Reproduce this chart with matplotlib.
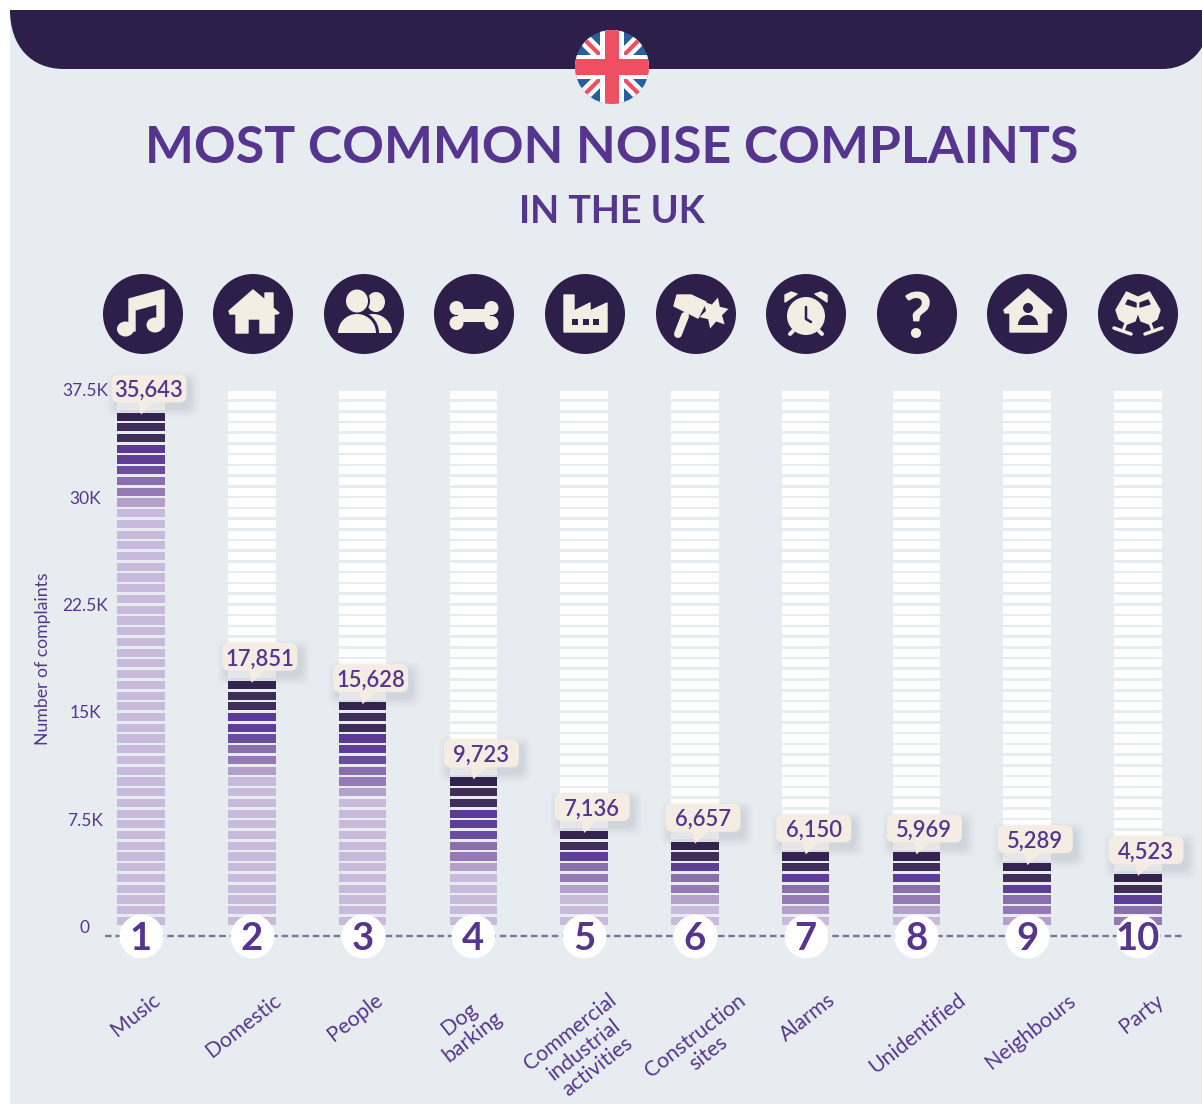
import numpy as np
import matplotlib
matplotlib.use("Agg")
import matplotlib.pyplot as plt
from matplotlib.patches import Circle, Ellipse, Polygon, PathPatch, FancyBboxPatch, Rectangle, Wedge
from matplotlib.path import Path
from matplotlib.transforms import Affine2D

plt.rcParams['font.family'] = ['Lato', 'DejaVu Sans']

categories = ['Music', 'Domestic', 'People', 'Dog\nbarking', 'Commercial\nindustrial\nactivities',
              'Construction\nsites', 'Alarms', 'Unidentified', 'Neighbours', 'Party']
complaints = [35643, 17851, 15628, 9723, 7136, 6657, 6150, 5969, 5289, 4523]
value_labels = ['35,643', '17,851', '15,628', '9,723', '7,136', '6,657', '6,150', '5,969', '5,289', '4,523']
filled_rows = [48, 23, 21, 14, 9, 8, 7, 7, 6, 5]
y_ticks = [0, 7500, 15000, 22500, 30000, 37500]
y_tick_labels = ['0', '7.5K', '15K', '22.5K', '30K', '37.5K']
row_step = 750
total_rows = 50

PURPLE = '#56358f'
DARK = '#2e1f4a'
CREAM = '#f4ede3'
BG = '#e7ecf0'
long_shades = ['#33234f', '#3f2f58', '#3f2f58', '#5a3a94', '#5f3e97', '#6a4d9f', '#8a6fae', '#957ab5', '#b3a0cb']
short_shades = ['#33234f', '#3f2f58', '#5f3e97', '#8a6fae', '#957ab5', '#b3a0cb']
light_shade = '#c8badb'
label_nudge = [-5, -8, -7, -7, 0, 7, 2, 1, 3, 3]

W, H = 1202, 1104
fig = plt.figure(figsize=(W / 100, H / 100), dpi=100, facecolor='white')

# page furniture, in image pixels
bg = fig.add_axes([0, 0, 1, 1], zorder=0)
bg.set_xlim(0, W)
bg.set_ylim(H, 0)
bg.axis('off')
bg.add_patch(Rectangle((10, 10), W - 10, H - 10, fc=BG, ec='none'))

banner = Path([(10, 10), (1202, 10), (1202, 47), (1195, 60), (1180, 69), (1162, 69), (64, 69), (30, 69), (10, 45), (10, 10)],
              [Path.MOVETO, Path.LINETO, Path.LINETO, Path.CURVE4, Path.CURVE4, Path.CURVE4, Path.LINETO, Path.CURVE4, Path.CURVE4, Path.CURVE4])
bg.add_patch(PathPatch(banner, fc=DARK, ec='none'))

# flag
fx, fy, fr = 612, 67, 37
clip = Circle((fx, fy), fr, transform=bg.transData)
flag_parts = [Rectangle((fx - fr, fy - fr), 2 * fr, 2 * fr, fc='#2a5f9e', ec='none')]
for s in (1, -1):
    flag_parts.append(Polygon([(fx - fr, fy - s * (fr - 9)), (fx - fr + 9, fy - s * fr), (fx + fr, fy + s * (fr - 9)), (fx + fr - 9, fy + s * fr)], fc='white', ec='none'))
    flag_parts.append(Polygon([(fx - fr, fy - s * (fr - 3)), (fx - fr + 3, fy - s * fr), (fx + fr, fy + s * (fr - 3)), (fx + fr - 3, fy + s * fr)], fc='#ef4f63', ec='none'))
flag_parts.append(Rectangle((fx - 12, fy - fr), 24, 2 * fr, fc='white', ec='none'))
flag_parts.append(Rectangle((fx - fr, fy - 12), 2 * fr, 24, fc='white', ec='none'))
flag_parts.append(Rectangle((fx - 7, fy - fr), 14, 2 * fr, fc='#ef4f63', ec='none'))
flag_parts.append(Rectangle((fx - fr, fy - 8), 2 * fr, 16, fc='#ef4f63', ec='none'))
for p in flag_parts:
    bg.add_patch(p)
    p.set_clip_path(clip)

bg.text(612, 144, 'MOST COMMON NOISE COMPLAINTS', color=PURPLE, fontsize=37.3, fontweight='bold', ha='center', va='center_baseline')
bg.text(612, 209, 'IN THE UK', color=PURPLE, fontsize=27.2, fontweight='bold', ha='center', va='center_baseline')


def poly(cx, cy, pts, color=CREAM):
    bg.add_patch(Polygon([(cx + a, cy + b) for a, b in pts], fc=color, ec=color, lw=1, joinstyle='round', zorder=3))


def dot(cx, cy, r, color=CREAM, ry=None):
    bg.add_patch(Ellipse((cx, cy), 2 * r, 2 * (ry or r), fc=color, ec='none', zorder=3))


def stroke(cx, cy, pts, width, color=CREAM):
    xs = [cx + a for a, b in pts]
    ys = [cy + b for a, b in pts]
    bg.plot(xs, ys, color=color, lw=width * 0.72, solid_capstyle='round', solid_joinstyle='round', zorder=3)


def icon_music(x, y):
    poly(x, y, [(-14, -15), (19, -24), (21, -24), (21, 13), (14, 13), (14, -10), (-8, -4), (-8, 17), (-14, 17)])
    dot(x - 17.5, y + 15, 8.5, ry=7.5)
    dot(x + 12, y + 11, 8.5, ry=7.5)


def icon_house(x, y):
    poly(x, y, [(-24, -3), (0, -24), (12, -14), (12, -21), (20, -21), (20, -6), (26, -1), (24, 0), (21, 0), (21, 19),
                (7, 19), (7, 5), (-5, 5), (-5, 19), (-17, 19), (-17, 0), (-23, 0)])


def icon_people(x, y):
    dot(x + 12, y - 12, 9, ry=10)
    bg.add_patch(Wedge((x + 9, y + 19), 19, 180, 360, fc=CREAM, ec='none', zorder=3))
    bg.add_patch(Circle((x - 7, y - 13), 13, fc=DARK, ec='none', zorder=3))
    bg.add_patch(Wedge((x - 7, y + 19), 22, 180, 360, fc=DARK, ec='none', zorder=3))
    dot(x - 7, y - 13, 11, ry=11.5)
    bg.add_patch(Wedge((x - 7, y + 19), 19, 180, 360, fc=CREAM, ec='none', zorder=3))


def icon_bone(x, y):
    bg.add_patch(Rectangle((x - 16, y - 5), 32, 13, fc=CREAM, ec='none', zorder=3))
    for a in (-17.5, 17.5):
        for b in (-6, 9):
            dot(x + a, y + b, 7)


def icon_factory(x, y):
    poly(x, y, [(-21, -19), (-11, -19), (-11, -3), (5, -11), (5, -3), (22, -11), (22, 18), (-21, 18)])
    for a in (-10, 0.5, 11):
        bg.add_patch(Rectangle((x + a - 3, y + 5), 6, 6, fc=DARK, ec='none', zorder=3))


def icon_hammer(x, y):
    poly(x, y, [(-19, -19), (-5, -19), (10, -12), (2, 4), (-22, -8)])
    stroke(x, y, [(-11, 2), (-18, 20)], 8)
    star = Path.unit_regular_star(6, 0.55)
    tr = Affine2D().rotate_deg(15).scale(15, 16).translate(x + 18, y - 1) + bg.transData
    bg.add_patch(PathPatch(star, fc=CREAM, ec='none', transform=tr, zorder=3))


def icon_clock(x, y):
    dot(x, y + 2, 19)
    for s in (-1, 1):
        poly(x, y, [(s * 21, -12), (s * 21, -19), (s * 15, -22), (s * 9, -20)])
        stroke(x, y, [(s * 13, 17), (s * 16, 20)], 4)
    stroke(x, y, [(0, -7), (0, 5), (5, 8)], 2.5, DARK)


def icon_house_person(x, y):
    poly(x, y, [(1, -25), (25, -4), (24, -1), (20, -1), (20, 18), (-17, 18), (-17, -1), (-22, -1), (-23, -4)])
    dot(x + 1, y - 6, 5, DARK)
    bg.add_patch(Wedge((x + 1, y + 11), 10, 180, 360, fc=DARK, ec='none', zorder=3))


def icon_glasses(x, y):
    for s in (-1, 1):
        poly(x, y, [(s * 11.5, -22), (s * 0.5, -17), (s * 0.5, 0), (s * 3, 7), (s * 11, 10), (s * 19, 5), (s * 22, -4)])
        poly(x, y, [(s * 10, -14), (s * 2, -11), (s * 2, -7), (s * 12, -10)], DARK)
        stroke(x, y, [(s * 12, 9), (s * 15, 17)], 3)
        stroke(x, y, [(s * 7, 20), (s * 24, 14)], 3.5)


icons = [(143, icon_music), (253, icon_house), (364, icon_people), (474, icon_bone), (585, icon_factory),
         (696, icon_hammer), (806, icon_clock), (917, None), (1027, icon_house_person), (1138, icon_glasses)]
for x, draw in icons:
    bg.add_patch(Circle((x, 314), 40, fc=DARK, ec='none', zorder=2))
    if draw:
        draw(x, 314)
    else:
        bg.text(x, 314, '?', color=CREAM, fontsize=45, fontweight=900, ha='center', va='center_baseline', zorder=3)

# chart axes: x=0 sits on the first bar, y=0 at the foot of the bars
px_left, px_right, px_top, px_bottom = 105, 1182, 388.5, 936
ax = fig.add_axes([px_left / W, 1 - px_bottom / H, (px_right - px_left) / W, (px_bottom - px_top) / H], zorder=1)
ax.patch.set_alpha(0)
ax.set_xlim((px_left - 141) / 110.78, (px_right - 141) / 110.78)
baseline = -769
ax.set_ylim(baseline, 37500)
for side in ax.spines.values():
    side.set_visible(False)

x = np.arange(len(categories))
row_h = row_step * 0.76
for i in x:
    ax.bar(np.full(total_rows, i), row_h, width=0.43, bottom=np.arange(total_rows) * row_step, color='white', linewidth=0, zorder=2)
    n = filled_rows[i]
    shades = long_shades if n >= 14 else short_shades
    colors = [shades[k] if k < len(shades) else light_shade for k in range(n)]
    bottoms = [(n - 1 - k) * row_step for k in range(n)]
    ax.bar(np.full(n, i), row_h, width=0.43, bottom=bottoms, color=colors, linewidth=0, zorder=3)

ax.axhline(baseline, color='#7d7394', lw=1.7, dashes=(2.8, 1.6), zorder=1, clip_on=False)
ax.scatter(x, np.full(len(x), baseline), s=1000, color='white', linewidth=0, zorder=4, clip_on=False)
for i in x:
    ax.text(i, baseline, str(i + 1), color=PURPLE, fontsize=27.5, fontweight='bold', ha='center', va='center_baseline', zorder=5)

ax.set_yticks(y_ticks)
ax.set_yticklabels(y_tick_labels, color=PURPLE, fontsize=12.5)
ax.tick_params(axis='y', length=0, pad=14.4)
for t in ax.get_yticklabels():
    t.set_ha('center')
    t.set_va('center_baseline')
    t.set_transform(t.get_transform() + Affine2D().translate(0, -1.5))
ax.set_ylabel('Number of complaints', color=PURPLE, fontsize=12.7, va='center')
ax.yaxis.set_label_coords((43 - px_left) / (px_right - px_left), (px_bottom - 659) / (px_bottom - px_top))

ax.set_xticks(x)
ax.set_xticklabels(categories, color=PURPLE, fontsize=15.3, rotation=38, ma='center', linespacing=1.12)
ax.tick_params(axis='x', length=0, pad=39)
for t, nudge in zip(ax.get_xticklabels(), label_nudge):
    t.set_transform(t.get_transform() + Affine2D().translate(nudge, 0))

# value callouts, offsets in pixels from the top of each filled stack
fig.canvas.draw()
for i in x:
    top = (filled_rows[i] - 1) * row_step + row_h
    px, py = ax.transData.transform((i, top))
    tr = Affine2D().translate(px, py)
    bw, bh = 75, 28
    bx, by = 8 - bw / 2, 10
    for grow, alpha in ((9, 0.012), (7, 0.018), (5, 0.025), (3, 0.03), (1, 0.035)):
        ax.add_patch(FancyBboxPatch((bx + 4 - grow, by - 6 - grow), bw + 2 * grow, bh + 2 * grow, boxstyle='round,pad=0,rounding_size=9',
                                    fc='#3a3550', ec='none', alpha=alpha, transform=tr, clip_on=False, zorder=6))
    ax.add_patch(FancyBboxPatch((bx, by), bw, bh, boxstyle='round,pad=0,rounding_size=7', fc=CREAM, ec='none', transform=tr, clip_on=False, zorder=7))
    ax.add_patch(Polygon([(-3, 11), (14, 11), (0, -2)], fc=CREAM, ec='none', transform=tr, clip_on=False, zorder=7))
    ax.annotate(value_labels[i], (i, top), xytext=(8, by + bh / 2), textcoords='offset pixels', color=PURPLE,
                fontsize=15.8, fontweight='semibold', ha='center', va='center_baseline', zorder=8, annotation_clip=False)

fig.savefig('out.png', dpi=100, facecolor='white')
